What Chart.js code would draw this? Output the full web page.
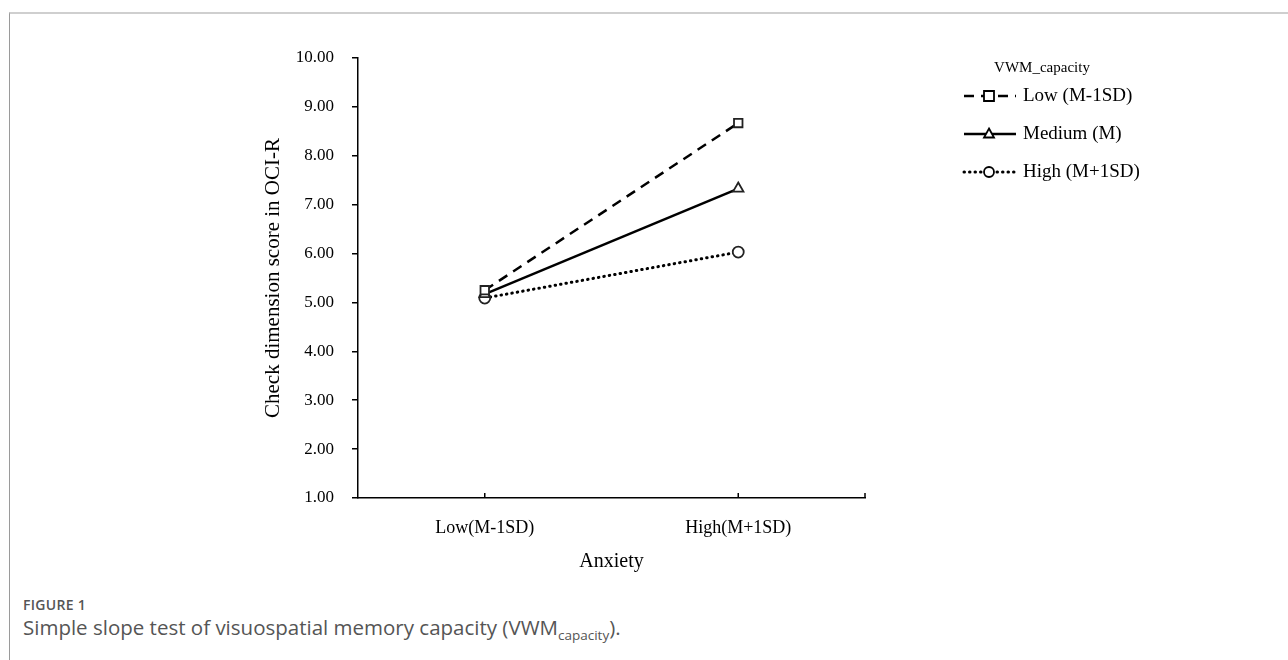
<!DOCTYPE html>
<html>
<head>
<meta charset="utf-8">
<script src="https://cdn.jsdelivr.net/npm/chart.js@4.4.1/dist/chart.umd.min.js"></script>
<style>
  body { margin: 0; background: #fff; width: 1288px; height: 660px; overflow: hidden; position: relative; }
  .frame { position: absolute; left: 9px; top: 12px; right: 0; bottom: 0; border-top: 2px solid #cfcfcf; border-left: 1.5px solid #9a9a9a; }
  #wrap { position: absolute; left: 0; top: 0; width: 1288px; height: 578px; }
  .figno { position: absolute; left: 23px; top: 595px; font: 600 14px "Open Sans", sans-serif; color: #555; letter-spacing: 0.3px; }
  .caption { position: absolute; left: 23px; top: 613px; font: 20.5px "Open Sans", sans-serif; color: #555; }
  .caption sub { font-size: 13.5px; }
</style>
</head>
<body>
<div class="frame"></div>
<div id="wrap"><canvas id="slopeChart"></canvas></div>
<div class="figno">FIGURE 1</div>
<div class="caption">Simple slope test of visuospatial memory capacity (VWM<sub>capacity</sub>).</div>
<script>
const anxietyLevels = ['Low(M-1SD)', 'High(M+1SD)'];
const seriesNames = ['Low (M-1SD)', 'Medium (M)', 'High (M+1SD)'];
const lowVwm = [5.25, 8.67];
const mediumVwm = [5.17, 7.33];
const highVwm = [5.09, 6.03];
const yTicks = [1, 2, 3, 4, 5, 6, 7, 8, 9, 10];

const serif = '"Liberation Serif", "Times New Roman", serif';

// small upward tick marks on the x axis, plus one at the right end
const xTickPlugin = {
  id: 'xTicks',
  afterDraw(chart) {
    const ctx = chart.ctx;
    const x = chart.scales.x;
    const y0 = chart.chartArea.bottom;
    ctx.save();
    ctx.strokeStyle = '#000';
    ctx.lineWidth = 1.5;
    const pts = x.ticks.map((t, i) => x.getPixelForTick(i));
    pts.push(chart.chartArea.right);
    pts.forEach(px => {
      ctx.beginPath();
      ctx.moveTo(px, y0);
      ctx.lineTo(px, y0 - 5);
      ctx.stroke();
    });
    ctx.restore();
  }
};

function drawMarker(ctx, style, cx, cy, r) {
  ctx.beginPath();
  if (style === 'rect') {
    ctx.rect(cx - r, cy - r, 2 * r, 2 * r);
  } else if (style === 'triangle') {
    ctx.moveTo(cx, cy - r * 1.1);
    ctx.lineTo(cx + r, cy + r * 0.7);
    ctx.lineTo(cx - r, cy + r * 0.7);
    ctx.closePath();
  } else {
    ctx.arc(cx, cy, r, 0, Math.PI * 2);
  }
  ctx.fillStyle = '#fff';
  ctx.fill();
  ctx.setLineDash([]);
  ctx.lineWidth = 1.8;
  ctx.stroke();
}

// legend like the original: title, line sample with marker, label
const legendPlugin = {
  id: 'sideLegend',
  afterDraw(chart) {
    const ctx = chart.ctx;
    ctx.save();
    ctx.fillStyle = '#000';
    ctx.font = '15px ' + serif;
    ctx.textAlign = 'center';
    ctx.textBaseline = 'middle';
    ctx.fillText('VWM_capacity', 1042, 68);
    const rows = [96, 134, 172];
    chart.data.datasets.forEach((ds, i) => {
      const y = rows[i];
      ctx.strokeStyle = '#000';
      ctx.lineWidth = ds.borderWidth;
      ctx.lineCap = ds.borderCapStyle || 'butt';
      ctx.setLineDash(ds.borderDash || []);
      ctx.beginPath();
      ctx.moveTo(964, y);
      ctx.lineTo(1016, y);
      ctx.stroke();
      ctx.lineCap = 'butt';
      drawMarker(ctx, ds.pointStyle, 989, y, 5);
      ctx.fillStyle = '#000';
      ctx.font = '19px ' + serif;
      ctx.textAlign = 'left';
      ctx.fillText(ds.label, 1023, y);
    });
    ctx.restore();
  }
};

new Chart(document.getElementById('slopeChart'), {
  type: 'line',
  data: {
    labels: anxietyLevels,
    datasets: [
      { label: seriesNames[0], data: lowVwm, borderColor: '#000', borderWidth: 2.5, borderDash: [10, 7], pointStyle: 'rect', pointRadius: 6, pointBorderWidth: 1.8, pointBackgroundColor: '#fff', pointBorderColor: '#222' },
      { label: seriesNames[1], data: mediumVwm, borderColor: '#000', borderWidth: 2.5, pointStyle: 'triangle', pointRadius: 6, pointBorderWidth: 1.8, pointBackgroundColor: '#fff', pointBorderColor: '#222' },
      { label: seriesNames[2], data: highVwm, borderColor: '#000', borderWidth: 3, borderDash: [0.5, 5], borderCapStyle: 'round', pointStyle: 'circle', pointRadius: 5.5, pointBorderWidth: 1.8, pointBackgroundColor: '#fff', pointBorderColor: '#222' }
    ]
  },
  options: {
    responsive: true,
    maintainAspectRatio: false,
    animation: false,
    layout: { padding: { left: 257, right: 423, top: 58, bottom: 0 } },
    plugins: { legend: { display: false }, tooltip: { enabled: false } },
    scales: {
      x: {
        offset: true,
        afterFit: (s) => { s.height = 80; },
        border: { color: '#000', width: 1.5 },
        grid: { display: true, drawOnChartArea: false, drawTicks: false },
        ticks: { color: '#000', padding: 19, font: { family: serif, size: 18 } },
        title: { display: true, text: 'Anxiety', color: '#000', font: { family: serif, size: 20 } }
      },
      y: {
        min: 1,
        max: 10,
        afterFit: (s) => { s.width = 101; },
        afterBuildTicks: (s) => { s.ticks = yTicks.map(v => ({ value: v })); },
        border: { color: '#000', width: 1.5 },
        grid: { drawOnChartArea: false, color: '#000', lineWidth: 1.5, tickLength: 6 },
        ticks: { color: '#000', padding: 18, font: { family: serif, size: 17 }, callback: (v) => Number(v).toFixed(2) },
        title: { display: true, text: 'Check dimension score in OCI-R', color: '#000', font: { family: serif, size: 21 } }
      }
    }
  },
  plugins: [xTickPlugin, legendPlugin]
});
</script>
</body>
</html>
